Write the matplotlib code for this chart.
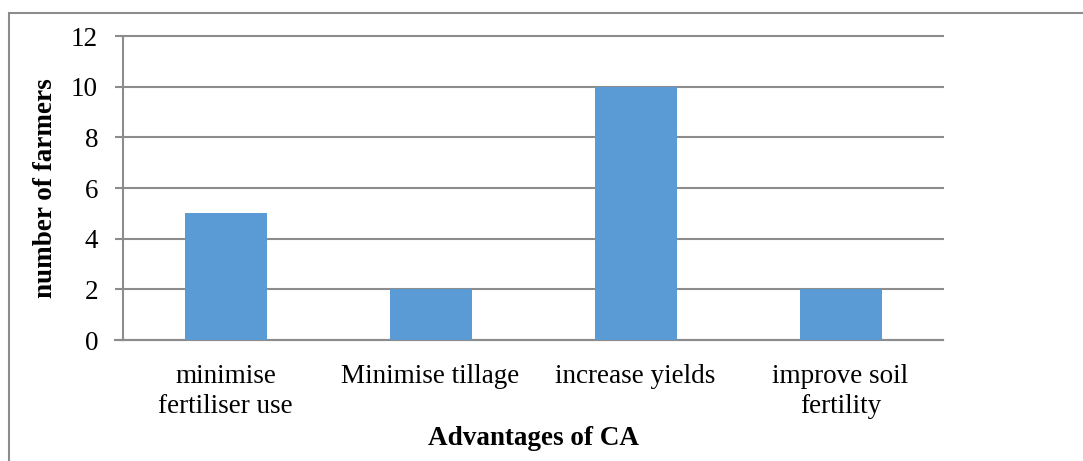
import matplotlib.pyplot as plt
from matplotlib.patches import Rectangle

# survey counts per advantage of conservation agriculture
categories = ["minimise\nfertiliser use", "Minimise tillage", "increase yields", "improve soil\nfertility"]
farmers = [5, 2, 10, 2]
y_ticks = [0, 2, 4, 6, 8, 10, 12]

W, H = 1083, 461
plt.rcParams['font.family'] = ['Liberation Serif', 'DejaVu Serif']
fs = 19.5

fig = plt.figure(figsize=(W / 100, H / 100), dpi=100)
ax = fig.add_axes([123 / W, 1 - 340 / H, (943 - 123) / W, (340 - 36) / H])

grey = "#8c8c8c"
x = range(len(categories))
ax.bar(x, farmers, width=0.4, color="#5b9bd5", zorder=3)

ax.set_xlim(-0.5, len(categories) - 0.5)
ax.set_ylim(0, 12)
ax.set_yticks(y_ticks)
ax.set_xticks(list(x))
ax.set_xticklabels(categories, fontsize=fs, linespacing=1.27)
ax.tick_params(axis='x', length=0, pad=17)
ax.tick_params(axis='y', length=6, color=grey, width=1.5, labelsize=fs, pad=12)
ax.grid(axis='y', color=grey, linewidth=1.5, zorder=0)
for gl in ax.get_ygridlines():
    gl.set_clip_on(False)

for side in ["top", "right"]:
    ax.spines[side].set_visible(False)
for side in ["left", "bottom"]:
    ax.spines[side].set_color(grey)
    ax.spines[side].set_linewidth(1.5)

# baseline runs a little past the value axis, like the tick marks
ax.plot([-0.5 - 8 / 205, -0.5], [0, 0], color=grey, lw=1.5, clip_on=False, zorder=4)

ax.set_ylabel("number of farmers", fontsize=fs, fontweight="bold", labelpad=9)
ax.set_xlabel("Advantages of CA", fontsize=fs, fontweight="bold", labelpad=5)

# chart frame
fig.patches.append(Rectangle((9 / W, -0.1), 1.2, 1 - 13 / H + 0.1, transform=fig.transFigure,
                             fill=False, edgecolor=grey, linewidth=1.5))

fig.savefig("out.png", dpi=100)
